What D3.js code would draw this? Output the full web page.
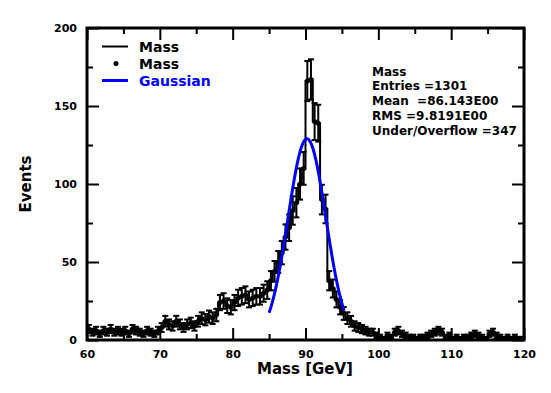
<!DOCTYPE html>
<html>
<head>
<meta charset="utf-8">
<script src="https://cdn.jsdelivr.net/npm/d3@7"></script>
<style>
  body { margin: 0; background: #fff; }
  svg { display: block; }
  text { font-family: "DejaVu Sans", sans-serif; font-weight: bold; fill: #000; }
</style>
</head>
<body>
<svg id="chart" width="551" height="393"></svg>
<script>
// ----------- Data: histogram (0.5 GeV bins from 60 to 120) ------------
const binLow = 60;
const binWidth = 0.5;
const counts = [
  7, 5, 6, 4, 6, 5, 7, 5, 6, 5,          // 60 - 64.5
  6, 4, 7, 6, 5, 4, 6, 5, 4, 6,          // 65 - 69.5
  8, 12, 10, 9, 12, 10, 8, 10, 11, 9,    // 70 - 74.5
  12, 14, 13, 15, 14, 16, 24, 25, 22, 21,// 75 - 79.5
  24, 27, 28, 29, 26, 27, 28, 28, 30, 32,// 80 - 84.5
  38, 44, 50, 56, 66, 72, 83, 88, 100, 110, // 85 - 89.5
  166, 167, 140, 139, 90, 84, 38, 33, 26, 21, // 90 - 94.5
  17, 14, 12, 9, 8, 7, 6, 5, 5, 3,       // 95 - 99.5
  2, 1, 3, 2, 5, 6, 4, 3, 2, 2,          // 100 - 104.5
  1, 2, 2, 3, 4, 5, 6, 5, 2, 3,          // 105 - 109.5
  1, 2, 1, 2, 2, 3, 4, 3, 2, 1,          // 110 - 114.5
  4, 5, 3, 2, 1, 2, 1, 2, 1, 1           // 115 - 119.5
];

// Gaussian fit: [constant, mean, sigma] and fit range
const gaussParams = [129, 90.2, 2.6];
const gaussRange = [85, 95.3];

// Axis ticks
const xMajorTicks = [60, 70, 80, 90, 100, 110, 120];
const xMinorTicks = [65, 75, 85, 95, 105, 115];
const yMajorTicks = [0, 50, 100, 150, 200];
const yMinorTicks = [25, 75, 125, 175];

// Legend + stats text
const legendItems = [
  { label: "Mass", type: "line", color: "#000" },
  { label: "Mass", type: "dot", color: "#000" },
  { label: "Gaussian", type: "line", color: "#0000ff" }
];
const statsLines = [
  "Mass",
  "Entries =1301",
  "Mean\u00a0\u00a0=86.143E00",
  "RMS =9.8191E00",
  "Under/Overflow =347"
];

// ----------- Setup ------------
const svg = d3.select("#chart");
const pLeft = 87, pRight = 524, pTop = 28, pBottom = 340;

const x = d3.scaleLinear().domain([60, 120]).range([pLeft, pRight]);
const y = d3.scaleLinear().domain([0, 200]).range([pBottom, pTop]);

const bins = counts.map((c, i) => ({
  x0: binLow + i * binWidth,
  x1: binLow + (i + 1) * binWidth,
  n: c
}));

const plot = svg.append("g");

// ----------- Histogram outline (step) ------------
let stepPts = [[x(binLow), y(0)]];
bins.forEach(b => {
  stepPts.push([x(b.x0), y(b.n)]);
  stepPts.push([x(b.x1), y(b.n)]);
});
stepPts.push([x(bins[bins.length - 1].x1), y(0)]);

plot.append("path")
  .attr("d", d3.line()(stepPts))
  .attr("fill", "none")
  .attr("stroke", "#000")
  .attr("stroke-width", 2);

// ----------- Error bars + markers ------------
const eb = plot.append("g").attr("stroke", "#000").attr("stroke-width", 2);
bins.forEach(b => {
  const cx = x((b.x0 + b.x1) / 2);
  const err = Math.sqrt(b.n);
  const yLo = y(Math.max(0, b.n - err)), yHi = y(b.n + err);
  eb.append("line").attr("x1", cx).attr("x2", cx).attr("y1", yLo).attr("y2", yHi);
  eb.append("line").attr("x1", cx - 3).attr("x2", cx + 3).attr("y1", yLo).attr("y2", yLo);
  eb.append("line").attr("x1", cx - 3).attr("x2", cx + 3).attr("y1", yHi).attr("y2", yHi);
});

plot.selectAll("circle.pt")
  .data(bins)
  .enter()
  .append("circle")
  .attr("class", "pt")
  .attr("cx", d => x((d.x0 + d.x1) / 2))
  .attr("cy", d => y(d.n))
  .attr("r", 2.5)
  .attr("fill", "#000");

// ----------- Gaussian fit curve ------------
const gauss = v => gaussParams[0] * Math.exp(-0.5 * Math.pow((v - gaussParams[1]) / gaussParams[2], 2));
const gx = d3.range(gaussRange[0], gaussRange[1] + 0.001, 0.05);
plot.append("path")
  .datum(gx)
  .attr("d", d3.line().x(v => x(v)).y(v => y(gauss(v))))
  .attr("fill", "none")
  .attr("stroke", "#0000ff")
  .attr("stroke-width", 3);

// ----------- Axes (ticks point inward) ------------
function styleAxis(g) {
  g.select(".domain").remove();
  g.selectAll(".tick line").attr("stroke", "#000").attr("stroke-width", 2);
  g.selectAll("text").attr("font-size", "11px").style("font-family", "DejaVu Sans").style("font-weight", "bold");
}

svg.append("g").attr("transform", `translate(0,${pBottom})`)
  .call(d3.axisBottom(x).tickValues(xMajorTicks).tickSize(-12).tickPadding(10).tickFormat(d3.format("d")))
  .call(styleAxis);
svg.append("g").attr("transform", `translate(0,${pBottom})`)
  .call(d3.axisBottom(x).tickValues(xMinorTicks).tickSize(-6).tickFormat(""))
  .call(styleAxis);
svg.append("g").attr("transform", `translate(0,${pTop})`)
  .call(d3.axisTop(x).tickValues(xMajorTicks).tickSize(-12).tickFormat(""))
  .call(styleAxis);
svg.append("g").attr("transform", `translate(0,${pTop})`)
  .call(d3.axisTop(x).tickValues(xMinorTicks).tickSize(-6).tickFormat(""))
  .call(styleAxis);

svg.append("g").attr("transform", `translate(${pLeft},0)`)
  .call(d3.axisLeft(y).tickValues(yMajorTicks).tickSize(-12).tickPadding(10).tickFormat(d3.format("d")))
  .call(styleAxis);
svg.append("g").attr("transform", `translate(${pLeft},0)`)
  .call(d3.axisLeft(y).tickValues(yMinorTicks).tickSize(-6).tickFormat(""))
  .call(styleAxis);
svg.append("g").attr("transform", `translate(${pRight},0)`)
  .call(d3.axisRight(y).tickValues(yMajorTicks).tickSize(-12).tickFormat(""))
  .call(styleAxis);
svg.append("g").attr("transform", `translate(${pRight},0)`)
  .call(d3.axisRight(y).tickValues(yMinorTicks).tickSize(-6).tickFormat(""))
  .call(styleAxis);

// Frame
svg.append("rect")
  .attr("x", pLeft).attr("y", pTop)
  .attr("width", pRight - pLeft).attr("height", pBottom - pTop)
  .attr("fill", "none").attr("stroke", "#000").attr("stroke-width", 3);

// ----------- Axis titles ------------
svg.append("text")
  .attr("x", 305).attr("y", 374)
  .attr("text-anchor", "middle")
  .attr("font-size", "15px")
  .text("Mass [GeV]");

svg.append("text")
  .attr("transform", "translate(31,184) rotate(-90)")
  .attr("text-anchor", "middle")
  .attr("font-size", "15px")
  .text("Events");

// ----------- Legend ------------
const legend = svg.append("g");
legendItems.forEach((d, i) => {
  const ly = 46.5 + i * 17;
  if (d.type === "line") {
    legend.append("line")
      .attr("x1", 102).attr("x2", 128).attr("y1", ly).attr("y2", ly)
      .attr("stroke", d.color).attr("stroke-width", i === 2 ? 3 : 2);
  } else {
    legend.append("circle").attr("cx", 116).attr("cy", ly).attr("r", 2.5).attr("fill", d.color);
  }
  legend.append("text")
    .attr("x", 139).attr("y", ly + 5)
    .attr("font-size", "14px")
    .style("fill", d.color)
    .text(d.label);
});

// ----------- Stats text ------------
statsLines.forEach((s, i) => {
  svg.append("text")
    .attr("x", 372).attr("y", 75.5 + i * 14.8)
    .attr("font-size", "12px")
    .text(s);
});
</script>
</body>
</html>
